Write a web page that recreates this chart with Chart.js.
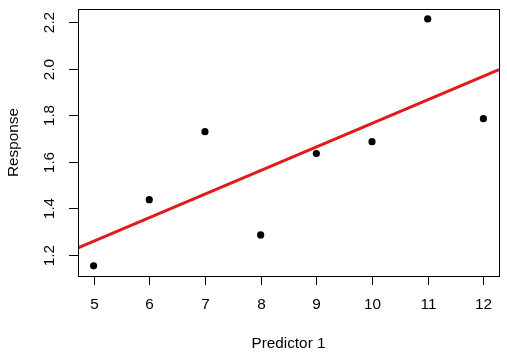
<!DOCTYPE html>
<html>
<head>
<meta charset="utf-8">
<script src="https://cdn.jsdelivr.net/npm/chart.js@4/dist/chart.umd.min.js"></script>
<style>
html,body{margin:0;padding:0;background:#fff;}
canvas{display:block;}
</style>
</head>
<body>
<canvas id="c" width="507" height="357"></canvas>
<script>
// Data
const xValues = [5, 6, 7, 8, 9, 10, 11, 12];
const yValues = [1.153, 1.437, 1.729, 1.286, 1.635, 1.686, 2.213, 1.785];
const fitX = [4.72, 12.28];
const fitY = [1.230, 1.996];
const xTicks = [5, 6, 7, 8, 9, 10, 11, 12];
const yTicks = [1.2, 1.4, 1.6, 1.8, 2.0, 2.2];
const yTickLabels = ["1.2", "1.4", "1.6", "1.8", "2.0", "2.2"];
const xTitle = "Predictor 1";
const yTitle = "Response";

const FONT = '15.3px "Liberation Sans", Arial, sans-serif';

const rAxes = {
  id: 'rAxes',
  afterDraw(chart) {
    const ctx = chart.ctx;
    const a = chart.chartArea;
    const xs = chart.scales.x, ys = chart.scales.y;
    ctx.save();
    ctx.strokeStyle = '#000';
    ctx.lineWidth = 1;
    ctx.strokeRect(Math.round(a.left) + 0.5, Math.round(a.top) + 0.5,
                   Math.round(a.right - a.left), Math.round(a.bottom - a.top));
    ctx.fillStyle = '#000';
    ctx.font = FONT;
    // x ticks
    ctx.textAlign = 'center';
    ctx.textBaseline = 'middle';
    xTicks.forEach(v => {
      const px = Math.round(xs.getPixelForValue(v)) + 0.5;
      ctx.beginPath();
      ctx.moveTo(px, a.bottom);
      ctx.lineTo(px, a.bottom + 9);
      ctx.stroke();
      ctx.fillText(String(v), px, a.bottom + 29);
    });
    // y ticks
    yTicks.forEach((v, i) => {
      const py = Math.round(ys.getPixelForValue(v)) + 0.5;
      ctx.beginPath();
      ctx.moveTo(a.left, py);
      ctx.lineTo(a.left - 9, py);
      ctx.stroke();
      ctx.save();
      ctx.translate(a.left - 28, py);
      ctx.rotate(-Math.PI / 2);
      ctx.fillText(yTickLabels[i], 0, 0);
      ctx.restore();
    });
    // titles
    ctx.fillText(xTitle, (a.left + a.right) / 2, a.bottom + 68);
    ctx.save();
    ctx.translate(14, (a.top + a.bottom) / 2);
    ctx.rotate(-Math.PI / 2);
    ctx.fillText(yTitle, 0, 0);
    ctx.restore();
    ctx.restore();
  }
};

new Chart(document.getElementById('c'), {
  type: 'scatter',
  data: {
    datasets: [
      {
        type: 'line',
        data: fitX.map((x, i) => ({x: x, y: fitY[i]})),
        borderColor: '#DF1B1B',
        borderWidth: 3,
        pointRadius: 0,
        fill: false
      },
      {
        data: xValues.map((x, i) => ({x: x, y: yValues[i]})),
        backgroundColor: '#000',
        borderColor: '#000',
        pointRadius: 3.6,
        borderWidth: 0
      }
    ]
  },
  options: {
    responsive: false,
    animation: false,
    devicePixelRatio: 1,
    layout: { padding: { top: 9, right: 8, left: 0, bottom: 0 } },
    plugins: { legend: { display: false }, tooltip: { enabled: false } },
    scales: {
      x: {
        type: 'linear', min: 4.72, max: 12.28,
        grid: { display: false }, border: { display: false },
        ticks: { display: false },
        afterFit(s) { s.height = 81; }
      },
      y: {
        type: 'linear', min: 1.1095, max: 2.2558,
        grid: { display: false }, border: { display: false },
        ticks: { display: false },
        afterFit(s) { s.width = 78; }
      }
    }
  },
  plugins: [rAxes]
});
</script>
</body>
</html>
